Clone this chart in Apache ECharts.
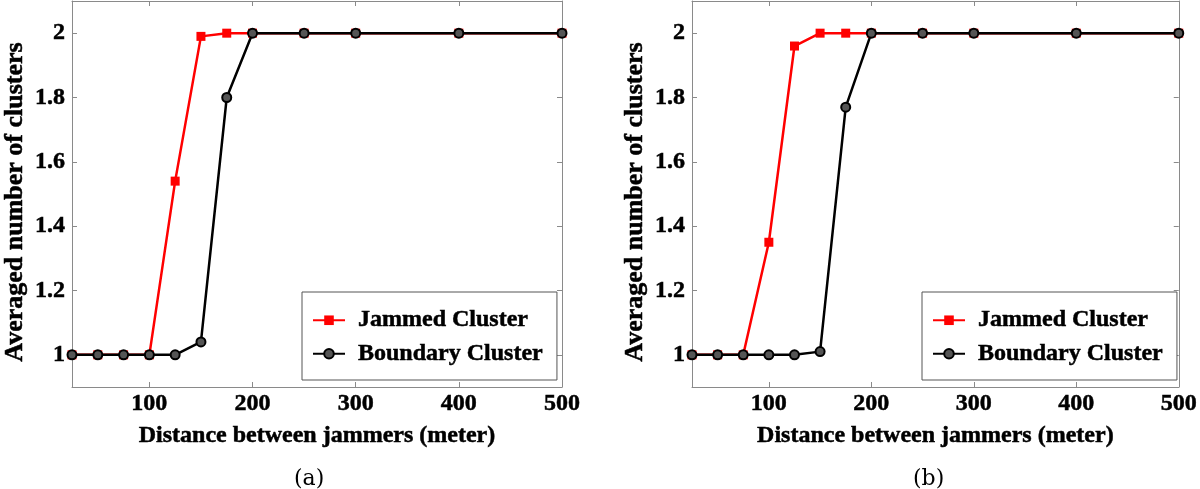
<!DOCTYPE html>
<html lang="en">
<head>
  <meta charset="UTF-8">
  <title>Averaged number of clusters</title>
  <script src="https://cdn.jsdelivr.net/npm/echarts@6/dist/echarts.min.js"></script>
  <style>
    html, body { margin: 0; padding: 0; background: #fff; }
    #target { width: 1200px; height: 489px; }
  </style>
</head>
<body>
  <div id="target"></div>
  <script>
    // distances (meter)
    const distances = [25, 50, 75, 100, 125, 150, 175, 200, 250, 300, 400, 500];
    const xTicks = [100, 200, 300, 400, 500];
    const yTicks = [1, 1.2, 1.4, 1.6, 1.8, 2];

    // panel (a)
    const jammedA = [1, 1, 1, 1, 1.54, 1.99, 2, 2, 2, 2, 2, 2];
    const boundaryA = [1, 1, 1, 1, 1, 1.04, 1.8, 2, 2, 2, 2, 2];
    // panel (b)
    const jammedB = [1, 1, 1, 1.35, 1.96, 2, 2, 2, 2, 2, 2, 2];
    const boundaryB = [1, 1, 1, 1, 1, 1.01, 1.77, 2, 2, 2, 2, 2];

    const font = 'Liberation Serif';
    const axisGrey = '#8a8a8a';
    // slight stroke so the bold serif looks as heavy as the original
    const heavy = { fontFamily: font, fontWeight: 'bold', color: '#000', textBorderColor: '#000', textBorderWidth: 0.5 };

    const pairs = arr => distances.map((d, i) => [d, arr[i]]);

    function xAxes(gi) {
      const base = {
        type: 'value', gridIndex: gi, min: 25, max: 500,
        splitLine: { show: false },
        axisLine: { lineStyle: { color: axisGrey, width: 1 } },
        axisTick: { inside: true, length: 5, customValues: xTicks, lineStyle: { color: axisGrey } }
      };
      return [
        Object.assign({}, base, {
          position: 'bottom',
          name: 'Distance between jammers (meter)',
          nameLocation: 'middle', nameGap: 37,
          nameTextStyle: Object.assign({ fontSize: 24 }, heavy),
          axisLabel: Object.assign({ customValues: xTicks, margin: 5, fontSize: 24 }, heavy)
        }),
        Object.assign({}, base, { position: 'top', axisLabel: { show: false } })
      ];
    }

    function yAxes(gi) {
      const base = {
        type: 'value', gridIndex: gi, min: 0.9, max: 2.1,
        splitLine: { show: false },
        axisLine: { show: true, lineStyle: { color: axisGrey, width: 1 } },
        axisTick: { show: true, inside: true, length: 5, customValues: yTicks, lineStyle: { color: axisGrey } }
      };
      return [
        Object.assign({}, base, {
          position: 'left',
          name: 'Averaged number of clusters',
          nameLocation: 'middle', nameGap: 44,
          nameTextStyle: Object.assign({ fontSize: 26, padding: [0, 16, 0, 0] }, heavy),
          axisLabel: Object.assign({ customValues: yTicks, margin: 7, fontSize: 24 }, heavy)
        }),
        Object.assign({}, base, { position: 'right', axisLabel: { show: false } })
      ];
    }

    function seriesFor(gi, jammed, boundary) {
      const ax = gi * 2;
      return [
        {
          name: 'Jammed Cluster', type: 'line', xAxisIndex: ax, yAxisIndex: ax,
          data: pairs(jammed), symbol: 'rect', symbolSize: 9,
          lineStyle: { color: '#ff0000', width: 2.5 },
          itemStyle: { color: '#ff0000' }
        },
        {
          name: 'Boundary Cluster', type: 'line', xAxisIndex: ax, yAxisIndex: ax,
          data: pairs(boundary), symbol: 'circle', symbolSize: 9,
          lineStyle: { color: '#000', width: 2.5 },
          itemStyle: { color: '#555', borderColor: '#000', borderWidth: 2 }
        }
      ];
    }

    function legendFor(left) {
      return {
        left: left, top: 292, orient: 'vertical',
        data: ['Jammed Cluster', 'Boundary Cluster'],
        itemWidth: 32, itemHeight: 12, itemGap: 9,
        padding: [16, 14, 14, 10],
        borderColor: '#555', borderWidth: 1, borderRadius: 0,
        backgroundColor: '#fff',
        textStyle: Object.assign({ fontSize: 24, lineHeight: 24, padding: [0, 0, 0, 8] }, heavy),
        selectedMode: false
      };
    }

    const option = {
      backgroundColor: '#fff',
      animation: false,
      grid: [
        { left: 72, top: 1, width: 490, height: 386 },
        { left: 692, top: 1, width: 490, height: 386 }
      ],
      xAxis: [...xAxes(0), ...xAxes(1)],
      yAxis: [...yAxes(0), ...yAxes(1)],
      legend: [legendFor(302), legendFor(922)],
      series: [...seriesFor(0, jammedA, boundaryA), ...seriesFor(1, jammedB, boundaryB)],
      graphic: [
        { type: 'text', left: 294, top: 468, style: { text: '(a)', font: '22px "DejaVu Serif"', fill: '#000' } },
        { type: 'text', left: 913, top: 468, style: { text: '(b)', font: '22px "DejaVu Serif"', fill: '#000' } }
      ]
    };

    echarts.init(document.getElementById('target')).setOption(option);
  </script>
</body>
</html>
